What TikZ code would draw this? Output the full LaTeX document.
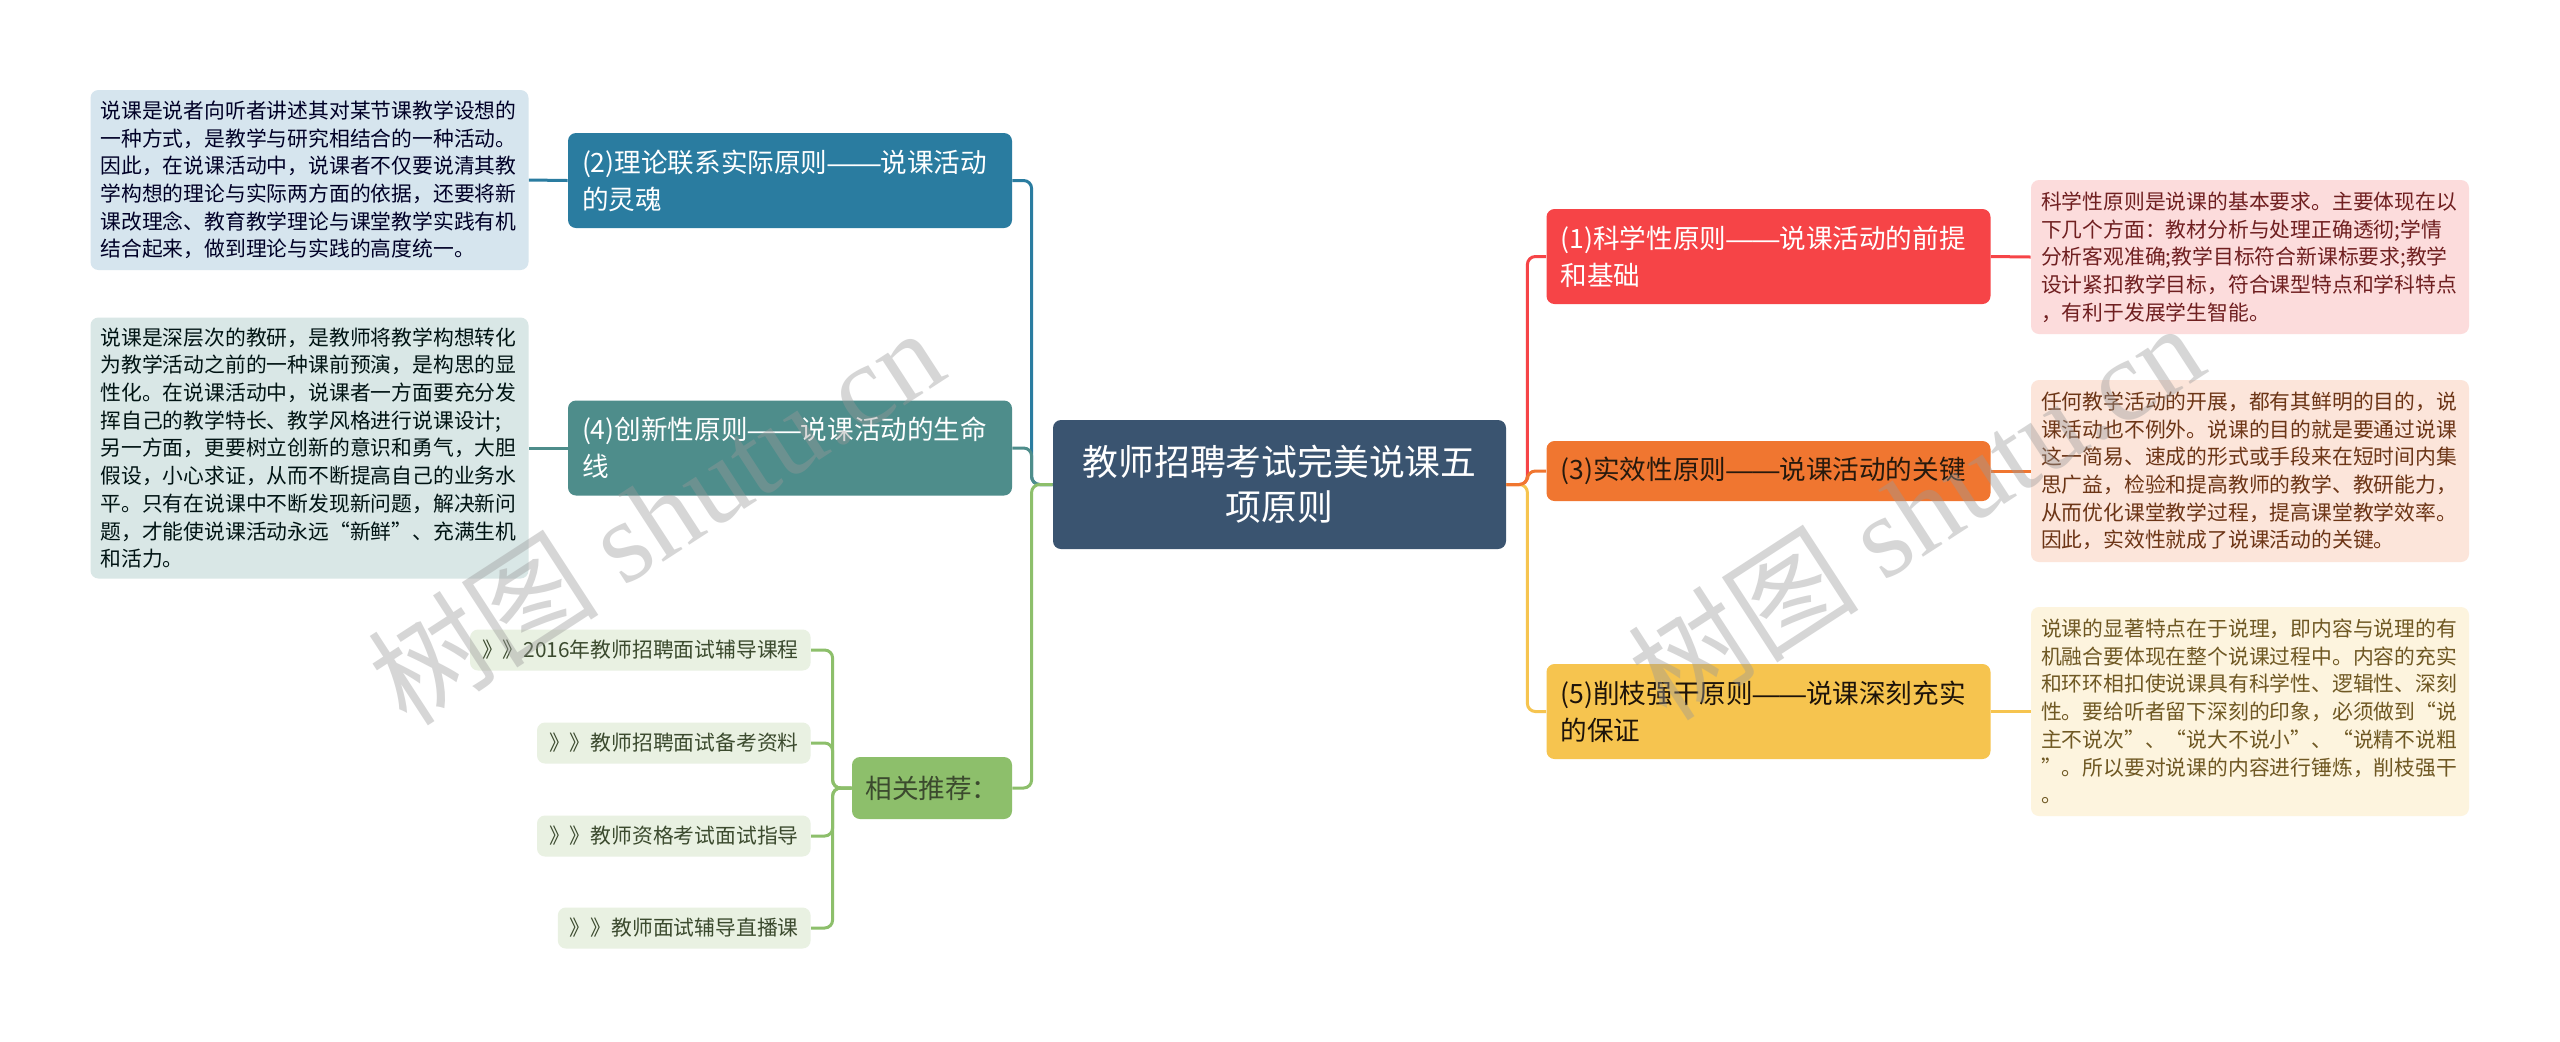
\documentclass[tikz,border=0pt]{standalone}
\usepackage{fontspec}
\setmainfont{Noto Sans CJK SC}
\newfontfamily\wmfont{Liberation Serif}
\newfontfamily\dashfont{Liberation Sans}
\newcommand\longdash{{\dashfont ——}}

\definecolor{rootc}{HTML}{3A5470}
\definecolor{c1}{HTML}{F64447}
\definecolor{c2}{HTML}{2A7CA0}
\definecolor{c3}{HTML}{F07630}
\definecolor{c4}{HTML}{4E8D8B}
\definecolor{c5}{HTML}{F6C44F}
\definecolor{crec}{HTML}{8DBF6B}
\definecolor{n1bg}{HTML}{FCDCDC}
\definecolor{n2bg}{HTML}{D6E5EE}
\definecolor{n3bg}{HTML}{FCE5DA}
\definecolor{n4bg}{HTML}{D9E7E6}
\definecolor{n5bg}{HTML}{FDF4DE}
\definecolor{itembg}{HTML}{E9F1E2}
\definecolor{itemtx}{HTML}{3B4A2E}

\begin{document}
\begin{tikzpicture}[x=0.5pt,y=-0.5pt]

\tikzset{box/.style = {rounded corners=4pt, inner ysep=2pt, align=left}}
\tikzset{topic/.style = {box, inner xsep=7pt, text width=208pt, minimum height=47.5pt, font=\fontsize{13.3}{18.5}\selectfont}}
\tikzset{note/.style = {box, inner xsep=5pt, text width=209pt, font=\fontsize{10.4}{13.85}\selectfont}}
\tikzset{item/.style = {box, fill=itembg, text=itemtx, inner xsep=6pt, minimum height=20.5pt, font=\fontsize{10.4}{13.85}\selectfont}}
\tikzset{link/.style = {line width=1.5pt, rounded corners=4pt}}
\tikzset{wm/.style = {text=black!40, text opacity=0.4, font=\fontsize{58}{58}\selectfont}}

\useasboundingbox (0,0) rectangle (2560,1041);
\fill[white] (0,0) rectangle (2560,1041);

%nodes
\node[box, fill=rootc, text=white, align=center, minimum width=226.5pt, minimum height=64.5pt, font=\fontsize{17.9}{22.5}\selectfont] (root) at (1279.5,484.5) {教师招聘考试完美说课五\\项原则};

\node[topic, fill=c2, text=white] (p2) at (790,180.5) {(2)理论联系实际原则\longdash 说课活动\\的灵魂};
\node[topic, fill=c4, text=white] (p4) at (790,448) {(4)创新性原则\longdash 说课活动的生命\\线};
\node[box, fill=crec, text=itemtx, minimum width=80pt, minimum height=31pt, font=\fontsize{13.3}{18.5}\selectfont] (rec) at (932,788) {相关推荐：};

\node[topic, fill=c1, text=white] (p1) at (1768.5,256.5) {(1)科学性原则\longdash 说课活动的前提\\和基础};
\node[topic, fill=c3, text=black!80!brown, minimum height=30pt] (p3) at (1768.5,471) {(3)实效性原则\longdash 说课活动的关键};
\node[topic, fill=c5, text=black!85!brown] (p5) at (1768.5,711.5) {(5)削枝强干原则\longdash 说课深刻充实\\的保证};

\node[note, fill=n2bg, text=black!85!blue, minimum height=90pt] (n2) at (309.5,180) {说课是说者向听者讲述其对某节课教学设想的\\一种方式，是教学与研究相结合的一种活动。\\因此，在说课活动中，说课者不仅要说清其教\\学构想的理论与实际两方面的依据，还要将新\\课改理念、教育教学理论与课堂教学实践有机\\结合起来，做到理论与实践的高度统一。};
\node[note, fill=n4bg, text=black!85!teal, minimum height=130.5pt] (n4) at (309.5,448) {说课是深层次的教研，是教师将教学构想转化\\为教学活动之前的一种课前预演，是构思的显\\性化。在说课活动中，说课者一方面要充分发\\挥自己的教学特长、教学风格进行说课设计;\\另一方面，更要树立创新的意识和勇气，大胆\\假设，小心求证，从而不断提高自己的业务水\\平。只有在说课中不断发现新问题，解决新问\\题，才能使说课活动永远“新鲜”、充满生机\\和活力。};

\node[note, fill=n1bg, text=c1!45!black, minimum height=77pt] (n1) at (2250,257) {科学性原则是说课的基本要求。主要体现在以\\下几个方面：教材分析与处理正确透彻;学情\\分析客观准确;教学目标符合新课标要求;教学\\设计紧扣教学目标，符合课型特点和学科特点\\，有利于发展学生智能。};
\node[note, fill=n3bg, text=c3!45!black, minimum height=91pt] (n3) at (2250,471) {任何教学活动的开展，都有其鲜明的目的，说\\课活动也不例外。说课的目的就是要通过说课\\这一简易、速成的形式或手段来在短时间内集\\思广益，检验和提高教师的教学、教研能力，\\从而优化课堂教学过程，提高课堂教学效率。\\因此，实效性就成了说课活动的关键。};
\node[note, fill=n5bg, text=c5!45!black, minimum height=104.5pt] (n5) at (2250,711.5) {说课的显著特点在于说理，即内容与说理的有\\机融合要体现在整个说课过程中。内容的充实\\和环环相扣使说课具有科学性、逻辑性、深刻\\性。要给听者留下深刻的印象，必须做到“说\\主不说次”、“说大不说小”、“说精不说粗\\”。所以要对说课的内容进行锤炼，削枝强干\\。};

\node[item, anchor=east] (i1) at (811,650) {》》2016年教师招聘面试辅导课程};
\node[item, anchor=east] (i2) at (811,743) {》》教师招聘面试备考资料};
\node[item, anchor=east] (i3) at (811,836) {》》教师资格考试面试指导};
\node[item, anchor=east] (i4) at (811,928) {》》教师面试辅导直播课};

%edges
\draw[link, c2] (root.west) -- ++(-21,0) |- (p2.east);
\draw[link, c4] (root.west) -- ++(-21,0) |- (p4.east);
\draw[link, crec] (root.west) -- ++(-21,0) |- (rec.east);
\draw[link, c1] (root.east) -- ++(21,0) |- (p1.west);
\draw[link, c5] (root.east) -- ++(21,0) |- (p5.west);
\draw[link, c3] (root.east) -- ++(21,0) |- (p3.west);
\draw[link, c2] (p2.west) -- (n2.east);
\draw[link, c4] (p4.west) -- (n4.east);
\draw[link, c1] (p1.east) -- (n1.west);
\draw[link, c3] (p3.east) -- (n3.west);
\draw[link, c5] (p5.east) -- (n5.west);
\foreach \i in {1,...,4}
  \draw[link, crec] (rec.west) -- ++(-19,0) |- (i\i.east);

%watermark
\node[wm, rotate=33] (wm1) at (655,515) {树图 {\wmfont shutu.cn}};
\node[wm, rotate=33] (wm2) at (1915,510) {树图 {\wmfont shutu.cn}};

\end{tikzpicture}
\end{document}
